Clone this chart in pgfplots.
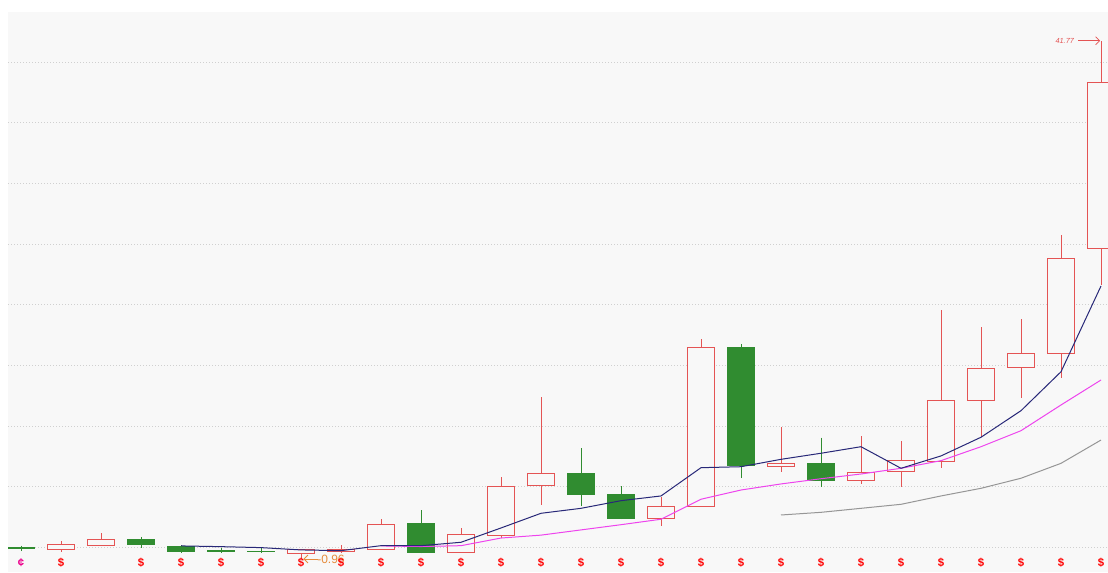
\documentclass[border=0pt]{standalone}
\usepackage{pgfplots}
\pgfplotsset{compat=1.18}
\usepgfplotslibrary{statistics}
\usetikzlibrary{arrows.meta}
\usepackage{fontspec}
\setmainfont{Liberation Sans}

\definecolor{bg}{HTML}{F8F8F8}
\definecolor{upc}{RGB}{228,84,84}
\definecolor{dnc}{RGB}{48,140,48}
\definecolor{ma5}{RGB}{40,40,120}
\definecolor{ma10}{RGB}{238,68,238}
\definecolor{ma20}{RGB}{150,150,150}
\definecolor{grd}{RGB}{208,208,208}
\definecolor{lowc}{RGB}{230,140,60}

% candle: position, low, body bottom, body top, high
\newcommand\up[5]{\addplot[draw=upc, fill=bg, line width=0.75pt,
  boxplot prepared={draw position=#1, lower whisker=#2, lower quartile=#3,
  median=#3, upper quartile=#4, upper whisker=#5}] coordinates {};}
\newcommand\dn[5]{\addplot[draw=dnc, fill=dnc, line width=0.75pt,
  boxplot prepared={draw position=#1, lower whisker=#2, lower quartile=#3,
  median=#3, upper quartile=#4, upper whisker=#5}] coordinates {};}

\begin{document}
\begin{tikzpicture}
\begin{axis}[
  scale only axis, width=825pt, height=420pt,
  xmin=-0.325, xmax=27.175, ymin=-2.03, ymax=44.14,
  axis background/.style={fill=bg},
  axis line style={draw=none}, major tick length=0pt,
  xtick=\empty, ytick={0,5,...,40}, yticklabels={},
  ymajorgrids, major grid style={grd, line width=0.75pt, dash pattern=on 0.75pt off 1.5pt},
  boxplot/draw direction=y, boxplot/box extend=0.68, boxplot/whisker extend=0,
]
\dn{0}{-0.30}{-0.08}{-0.05}{0.14}
\up{1}{-0.38}{-0.21}{0.20}{0.53}
\up{2}{0.12}{0.12}{0.61}{1.19}
\dn{3}{-0.05}{0.20}{0.61}{0.86}
\dn{4}{-0.38}{-0.34}{0.07}{0.16}
\dn{5}{-0.46}{-0.30}{-0.26}{-0.05}
\dn{6}{-0.42}{-0.36}{-0.32}{-0.05}
\up{7}{-0.96}{-0.49}{-0.16}{-0.13}
\up{8}{-0.46}{-0.34}{-0.17}{0.20}
\up{9}{-0.17}{-0.16}{1.90}{2.32}
\dn{10}{-0.50}{-0.40}{1.99}{3.08}
\up{11}{-0.42}{-0.40}{1.08}{1.57}
\up{12}{0.77}{1.02}{5.00}{5.78}
\up{13}{3.50}{5.09}{6.11}{12.37}
\dn{14}{3.41}{4.38}{6.11}{8.17}
\dn{15}{2.32}{2.40}{4.38}{5.06}
\up{16}{1.79}{2.34}{3.36}{4.13}
\up{17}{3.36}{3.36}{16.50}{17.16}
\dn{18}{5.70}{6.74}{16.50}{16.77}
\up{19}{6.24}{6.65}{6.93}{9.95}
\dn{20}{5.00}{5.50}{6.93}{9.04}
\up{21}{5.23}{5.50}{6.19}{9.18}
\up{22}{5.00}{6.26}{7.15}{8.77}
\up{23}{6.52}{7.07}{12.09}{19.57}
\up{24}{9.13}{12.15}{14.77}{18.15}
\up{25}{12.29}{14.85}{16.00}{18.80}
\up{26}{13.94}{16.00}{23.83}{25.75}
\up{27}{21.63}{24.68}{38.34}{41.77}

% moving averages
\addplot[ma20, line width=0.75pt] coordinates {
 (19,2.67) (20,2.89) (21,3.22) (22,3.55) (23,4.24) (24,4.87) (25,5.70) (26,6.93) (27,8.85)};
\addplot[ma10, line width=0.75pt] coordinates {
 (9,0.12) (10,0.07) (11,0.14) (12,0.77) (13,1.01) (14,1.44) (15,1.87) (16,2.32)
 (17,3.97) (18,4.73) (19,5.23) (20,5.66) (21,6.05) (22,6.52) (23,7.15) (24,8.30)
 (25,9.62) (26,11.74) (27,13.80)};
\addplot[ma5, line width=0.75pt] coordinates {
 (4,0.12) (5,0.06) (6,-0.02) (7,-0.21) (8,-0.27) (9,0.14) (10,0.14) (11,0.42)
 (12,1.60) (13,2.81) (14,3.22) (15,3.85) (16,4.24) (17,6.57) (18,6.65) (19,7.26)
 (20,7.76) (21,8.30) (22,6.52) (23,7.54) (24,9.08) (25,11.27) (26,14.48) (27,21.55)};

% signal marks
\addplot[only marks, mark=text, text mark={\$}, text mark as node=true,
  text mark style={text=red, font=\fontsize{8.5}{9}\selectfont\bfseries}] coordinates {
 (1,-1.3) (3,-1.3) (4,-1.3) (5,-1.3) (6,-1.3) (7,-1.3) (8,-1.3) (9,-1.3) (10,-1.3)
 (11,-1.3) (12,-1.3) (13,-1.3) (14,-1.3) (15,-1.3) (16,-1.3) (17,-1.3) (18,-1.3)
 (19,-1.3) (20,-1.3) (21,-1.3) (22,-1.3) (23,-1.3) (24,-1.3) (25,-1.3) (26,-1.3) (27,-1.3)};
\addplot[only marks, mark=text, text mark={¢}, text mark as node=true,
  text mark style={text=magenta, font=\fontsize{8.5}{9}\selectfont\bfseries}] coordinates {(0,-1.3)};

% extreme labels
\draw[upc, line width=0.6pt, -{Straight Barb[length=3pt,width=6pt]}] (axis cs:26.43,41.77) -- (axis cs:26.98,41.77);
\node[anchor=east, text=upc, font=\fontsize{5.5}{6}\selectfont\itshape, inner sep=0pt] at (axis cs:26.33,41.77) {41.77};
\draw[lowc, line width=0.6pt, {Straight Barb[length=3pt,width=6pt]}-] (axis cs:7.06,-0.96) -- (axis cs:7.42,-0.96);
\node[anchor=west, text=lowc, font=\fontsize{9}{10}\selectfont, inner sep=0pt] at (axis cs:7.40,-0.96) {-0.96};
\end{axis}
\pgfresetboundingbox
\path ([xshift=-6pt]current axis.south west) rectangle ([yshift=9pt]current axis.north east);
\end{tikzpicture}
\end{document}
